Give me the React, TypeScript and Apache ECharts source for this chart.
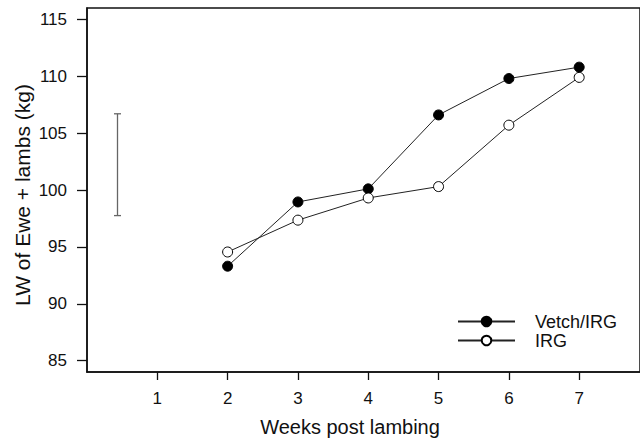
import React, { useEffect, useRef } from "react";
import * as echarts from "echarts";

const weeks = [2, 3, 4, 5, 6, 7];
const vetchIRG = [93.3, 98.95, 100.1, 106.6, 109.8, 110.8];
const irg = [94.55, 97.35, 99.3, 100.3, 105.7, 109.9];
const xTicks = [1, 2, 3, 4, 5, 6, 7];
const yTicks = [85, 90, 95, 100, 105, 110, 115];
const errorBar = { x: 0.43, low: 97.75, high: 106.7 };

const FONT = "'Liberation Sans', Arial, sans-serif";

export default function App() {
  const ref = useRef<HTMLDivElement>(null);
  useEffect(() => {
    if (!ref.current) return;
    const chart = echarts.init(ref.current, null, { renderer: "svg" });
    chart.setOption({
      animation: false,
      backgroundColor: "#ffffff",
      textStyle: { fontFamily: FONT },
      grid: {
        left: 87,
        top: 8,
        right: -3,
        bottom: 67,
        show: true,
        borderColor: "#111",
        borderWidth: 1.5,
        backgroundColor: "transparent",
      },
      xAxis: {
        type: "value",
        min: 0,
        max: 7.865,
        splitLine: { show: false },
        axisLine: { show: true, onZero: false, lineStyle: { color: "#111", width: 1.5 } },
        axisTick: { show: true, length: 8, customValues: xTicks, lineStyle: { color: "#111", width: 1.3 } },
        axisLabel: { customValues: xTicks, fontSize: 17, color: "#111", margin: 18, fontFamily: FONT },
      },
      yAxis: {
        type: "value",
        min: 84,
        max: 116,
        splitLine: { show: false },
        axisLine: { show: true, onZero: false, lineStyle: { color: "#111", width: 1.5 } },
        axisTick: { show: true, length: 10, customValues: yTicks, lineStyle: { color: "#111", width: 1.3 } },
        axisLabel: { customValues: yTicks, fontSize: 17, color: "#111", margin: 20, fontFamily: FONT },
      },
      legend: {
        left: 452,
        top: 307,
        orient: "vertical",
        itemWidth: 57,
        itemHeight: 12,
        itemGap: 0,
        data: ["Vetch/IRG", "IRG"],
        textStyle: { fontSize: 18, lineHeight: 19, color: "#111", padding: [0, 0, 0, 15], fontFamily: FONT },
      },
      graphic: [
        {
          type: "text",
          x: 350,
          y: 427,
          style: {
            text: "Weeks post lambing",
            fontSize: 20,
            fill: "#111",
            fontFamily: FONT,
            align: "center",
            verticalAlign: "middle",
          },
        },
        {
          type: "text",
          x: 22,
          y: 195,
          rotation: Math.PI / 2,
          style: {
            text: "LW of Ewe + lambs (kg)",
            fontSize: 21,
            fill: "#111",
            fontFamily: FONT,
            align: "center",
            verticalAlign: "middle",
          },
        },
      ],
      series: [
        {
          type: "custom",
          silent: true,
          data: [[errorBar.x, errorBar.low, errorBar.high]],
          renderItem: (params: any, api: any) => {
            const top = api.coord([api.value(0), api.value(2)]);
            const bot = api.coord([api.value(0), api.value(1)]);
            const x = Math.round(top[0]) + 0.5;
            const s = { stroke: "#666", lineWidth: 1.3 };
            return {
              type: "group",
              children: [
                { type: "line", shape: { x1: x, y1: top[1], x2: x, y2: bot[1] }, style: s },
                { type: "line", shape: { x1: x - 3.5, y1: top[1], x2: x + 3.5, y2: top[1] }, style: s },
                { type: "line", shape: { x1: x - 3.5, y1: bot[1], x2: x + 3.5, y2: bot[1] }, style: s },
              ],
            };
          },
        },
        {
          name: "Vetch/IRG",
          type: "line",
          data: weeks.map((w, i) => [w, vetchIRG[i]]),
          symbol: "circle",
          symbolSize: 10,
          lineStyle: { color: "#222", width: 1 },
          itemStyle: { color: "#000", borderColor: "#000", borderWidth: 1 },
        },
        {
          name: "IRG",
          type: "line",
          data: weeks.map((w, i) => [w, irg[i]]),
          symbol: "circle",
          symbolSize: 10,
          lineStyle: { color: "#222", width: 1 },
          itemStyle: { color: "#fff", borderColor: "#000", borderWidth: 1 },
        },
      ],
    });
    return () => chart.dispose();
  }, []);
  return (
    <div
      ref={ref}
      style={{ position: "fixed", left: 0, top: 0, width: 640, height: 439 }}
    />
  );
}
